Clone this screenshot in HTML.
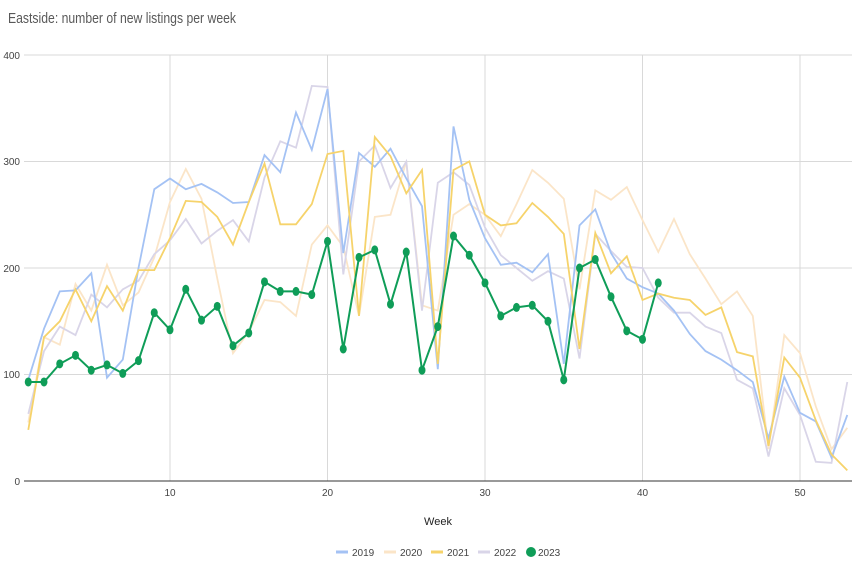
<!DOCTYPE html>
<html><head><meta charset="utf-8"><style>
html,body{margin:0;padding:0;background:#fff;}
svg{display:block;font-family:"Liberation Sans",sans-serif;}
</style></head><body>
<svg id="s" width="864" height="576" viewBox="0 0 864 576">
<rect width="864" height="576" fill="#fff"/>
<text x="8" y="23" font-size="15" fill="#595959" textLength="228" lengthAdjust="spacingAndGlyphs">Eastside: number of new listings per week</text>
<g stroke="#d9d9d9" stroke-width="1">
<line x1="24" x2="852" y1="55" y2="55"/>
<line x1="24" x2="852" y1="161.5" y2="161.5"/>
<line x1="24" x2="852" y1="268" y2="268"/>
<line x1="24" x2="852" y1="374.5" y2="374.5"/>
<line x1="170" x2="170" y1="55" y2="481"/>
<line x1="327.5" x2="327.5" y1="55" y2="481"/>
<line x1="485" x2="485" y1="55" y2="481"/>
<line x1="642.5" x2="642.5" y1="55" y2="481"/>
<line x1="800" x2="800" y1="55" y2="481"/>
</g>
<line x1="24" x2="852" y1="481" y2="481" stroke="#333" stroke-width="1"/>
<g font-size="10" fill="#444" text-anchor="end">
<text x="20" y="59">400</text><text x="20" y="165">300</text><text x="20" y="272">200</text><text x="20" y="378">100</text><text x="20" y="485">0</text>
</g>
<g font-size="10" fill="#444" text-anchor="middle">
<text x="170" y="496">10</text><text x="327.5" y="496">20</text><text x="485" y="496">30</text><text x="642.5" y="496">40</text><text x="800" y="496">50</text>
<text x="438" y="525" font-size="11" fill="#222">Week</text>
</g>
<g id="series"></g>
<g font-size="10" fill="#444">
<line x1="336" x2="348" y1="552" y2="552" stroke="#a4c2f4" stroke-width="3"/><text x="352" y="556">2019</text>
<line x1="384" x2="396" y1="552" y2="552" stroke="#fbe5c8" stroke-width="3"/><text x="400" y="556">2020</text>
<line x1="431" x2="443" y1="552" y2="552" stroke="#f6d36b" stroke-width="3"/><text x="447" y="556">2021</text>
<line x1="478" x2="490" y1="552" y2="552" stroke="#d9d5e8" stroke-width="3"/><text x="494" y="556">2022</text>
<circle cx="531" cy="552" r="5" fill="#0f9d58"/><text x="538" y="556">2023</text>
</g>
</svg>
<script>
var D={
"#fbe5c8":[55,135,128,185,160,203,165,177,210,262,293,265,190,120,140,170,168,155,222,240,220,155,248,250,300,165,160,250,260,250,230,260,292,280,265,180,273,264,276,245,215,246,213,190,166,178,155,30,137,120,70,30,50],
"#d9d5e8":[63,122,145,137,175,163,180,188,213,226,246,223,235,245,225,285,319,313,371,370,194,300,315,275,300,160,280,290,278,238,212,200,188,197,190,115,232,216,201,200,172,158,158,145,139,95,87,23,87,62,18,17,93],
"#a4c2f4":[95,143,178,179,195,97,114,200,274,284,274,279,271,261,262,306,290,346,311,368,214,308,295,312,284,258,105,333,264,228,203,205,196,213,110,240,255,214,190,182,176,160,138,122,114,104,93,40,98,64,56,22,62],
"#f6d36b":[48,135,150,180,150,183,160,198,198,228,263,262,248,222,262,298,241,241,260,307,310,155,323,305,270,292,110,292,300,250,240,242,261,248,232,124,233,195,211,170,176,172,170,156,163,121,117,33,116,97,57,25,10],
"#0f9d58":[93,93,110,118,104,109,101,113,158,142,180,151,164,127,139,187,178,178,175,225,124,210,217,166,215,104,145,230,212,186,155,163,165,150,95,200,208,173,141,133,186]};
var g=document.getElementById("series"),ns="http://www.w3.org/2000/svg";
function X(w){return 170+(w-10)*15.75}function Y(v){return 481-v*1.065}
for(var c in D){var p=D[c].map(function(v,i){return X(i+1).toFixed(1)+","+Y(v).toFixed(1)}).join(" ");
var l=document.createElementNS(ns,"polyline");l.setAttribute("points",p);l.setAttribute("fill","none");l.setAttribute("stroke",c);l.setAttribute("stroke-width",c=="#0f9d58"?2:1.8);g.appendChild(l);
if(c=="#0f9d58"){D[c].forEach(function(v,i){var e=document.createElementNS(ns,"ellipse");e.setAttribute("cx",X(i+1));e.setAttribute("cy",Y(v));e.setAttribute("rx",3.5);e.setAttribute("ry",4.5);e.setAttribute("fill",c);g.appendChild(e);});}}
</script>
</body></html>
